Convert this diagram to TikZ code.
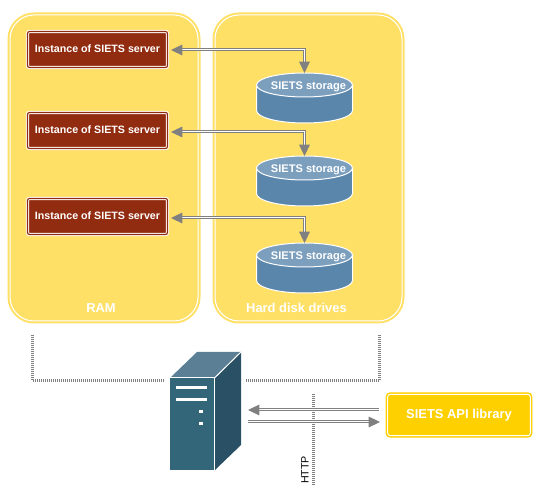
\documentclass[tikz,border=0pt]{standalone}
\usepackage{fontspec}
\setmainfont{Liberation Sans}
\usetikzlibrary{arrows.meta,shapes.geometric}
\definecolor{panelY}{HTML}{FFE066}
\definecolor{apiY}{HTML}{FFD000}
\definecolor{srvBrown}{HTML}{922C10}
\definecolor{cylTop}{HTML}{7C9FBE}
\definecolor{cylBody}{HTML}{5A86AB}
\definecolor{frontC}{HTML}{336678}
\definecolor{sideC}{HTML}{2A5065}
\definecolor{topC}{HTML}{5B8095}
\definecolor{lineG}{HTML}{808080}
\newcommand{\upTxt}[1]{\raisebox{1.6pt}{#1}}
\tikzset{
  x=0.75pt,y=-0.75pt,
  lbl/.style={font=\bfseries\fontsize{8pt}{10pt}\selectfont,text=white,inner sep=0pt,outer sep=0pt},
  biglbl/.style={font=\bfseries\fontsize{9.7pt}{11pt}\selectfont,text=white,inner sep=0pt,outer sep=0pt},
  stolbl/.style={font=\bfseries\fontsize{8.3pt}{10pt}\selectfont,text=white,inner sep=0pt,outer sep=0pt,xshift=3pt,yshift=-1pt},
  panel/.style={preaction={draw=panelY,line width=3.75pt,rounded corners=18pt},fill=panelY,draw=white,line width=0.75pt,rounded corners=18pt,inner sep=0pt,outer sep=0pt},
  srvbox/.style={draw=white,line width=0.75pt,double=srvBrown,double distance=0.9pt,fill=srvBrown,rounded corners=1.5pt,minimum width=105pt,minimum height=27pt,lbl},
  apibox/.style={preaction={draw=apiY,line width=3pt,rounded corners=2pt},fill=apiY,draw=white,line width=0.75pt,rounded corners=2pt,minimum width=107pt,minimum height=31pt,biglbl},
  cyltop/.style={ellipse,fill=cylTop,draw=white,line width=0.75pt,inner sep=0pt,outer sep=0pt,minimum width=72pt,minimum height=18pt},
  cylbody/.style={fill=cylBody,draw=white,line width=0.75pt},
  link/.style={draw=lineG,line width=0.75pt,double=white,double distance=0.75pt,-{Triangle[length=8.5pt,width=8pt,fill=lineG]}},
  linkb/.style={draw=lineG,line width=0.75pt,double=white,double distance=0.75pt,{Triangle[length=8.5pt,width=8pt,fill=lineG]}-{Triangle[length=8.5pt,width=8pt,fill=lineG]}},
  dots/.style={draw=lineG,line width=2.2pt,dash pattern=on 0.75pt off 0.75pt},
}
\begin{document}
\begin{tikzpicture}
\useasboundingbox (0,0) rectangle (544,495);
% panels
\node[panel,minimum width=141pt,minimum height=229.5pt] (ram) at (104,168) {};
\node[panel,minimum width=140.25pt,minimum height=229.5pt] (hdd) at (308.5,168) {};
\node[biglbl] (ramlbl) at (101,308) {RAM};
\node[biglbl] (hddlbl) at (296.5,308) {Hard disk drives};
% server boxes
\node[srvbox] (s1) at (97.5,49.5) {\upTxt{Instance of SIETS server}};
\node[srvbox] (s2) at (97.5,130.5) {\upTxt{Instance of SIETS server}};
\node[srvbox] (s3) at (97.5,216.5) {\upTxt{Instance of SIETS server}};
% storage
\path[cylbody] (256.5,85) -- (256.5,110.5) arc[start angle=180,end angle=360,x radius=48,y radius=-12.5] -- (352.5,85) -- cycle;
\node[cyltop,label={[stolbl]center:SIETS storage}] (c1) at (304.5,85) {};
\path[cylbody] (256.5,168) -- (256.5,193.5) arc[start angle=180,end angle=360,x radius=48,y radius=-12.5] -- (352.5,168) -- cycle;
\node[cyltop,label={[stolbl]center:SIETS storage}] (c2) at (304.5,168) {};
\path[cylbody] (256.5,255) -- (256.5,280.5) arc[start angle=180,end angle=360,x radius=48,y radius=-12.5] -- (352.5,255) -- cycle;
\node[cyltop,label={[stolbl]center:SIETS storage}] (c3) at (304.5,255) {};
% links
\coordinate (e1) at (171,50);
\coordinate (e2) at (171,132);
\coordinate (e3) at (171,218);
\draw[linkb] (e1) -| (c1.north);
\draw[linkb] (e2) -| (c2.north);
\draw[linkb] (e3) -| (c3.north);
% dotted
\coordinate (d1) at (32.5,335);
\coordinate (d2) at (32.5,380.5);
\coordinate (d3) at (165,380.5);
\coordinate (d4) at (246,380.5);
\coordinate (d5) at (379.5,380.5);
\coordinate (d6) at (379.5,335);
\coordinate (d7) at (313.5,394);
\coordinate (d8) at (313.5,485);
\draw[dots] (d1) -- (d2) -- (d3);
\draw[dots] (d4) -- (d5) -- (d6);
\draw[dots] (d7) -- (d8);
% computer
\fill[topC] (170,378) -- (197,352) -- (241,352) -- (214,378) -- cycle;
\fill[sideC] (215,378) -- (241,352) -- (241,445) -- (215,470) -- cycle;
\node[fill=frontC,inner sep=0pt,outer sep=0pt,minimum width=33pt,minimum height=69pt] (pc) at (192,424.5) {};
\fill[white] (176,386) rectangle (207,389);
\fill[white] (176,398) rectangle (207,401);
\fill[white] (199,410) rectangle (203,413);
\fill[white] (199,422) rectangle (203,425);
\draw[white,line width=0.75pt] (170,378) -- (214.5,378) -- (214.5,471);
\draw[white,line width=0.75pt] (214.5,378) -- (241,352);
% API
\node[apibox] (api) at (459,415) {SIETS API library};
\coordinate (a1) at (379,410);
\coordinate (a2) at (248,410);
\coordinate (b1) at (248,422);
\coordinate (b2) at (380,422);
\draw[link] (a1) -- (a2);
\draw[link] (b1) -- (b2);
\node[rotate=90,inner sep=0pt,outer sep=0pt,font=\fontsize{8pt}{10pt}\selectfont,text=black] (http) at (305,470) {HTTP};
\end{tikzpicture}
\end{document}
